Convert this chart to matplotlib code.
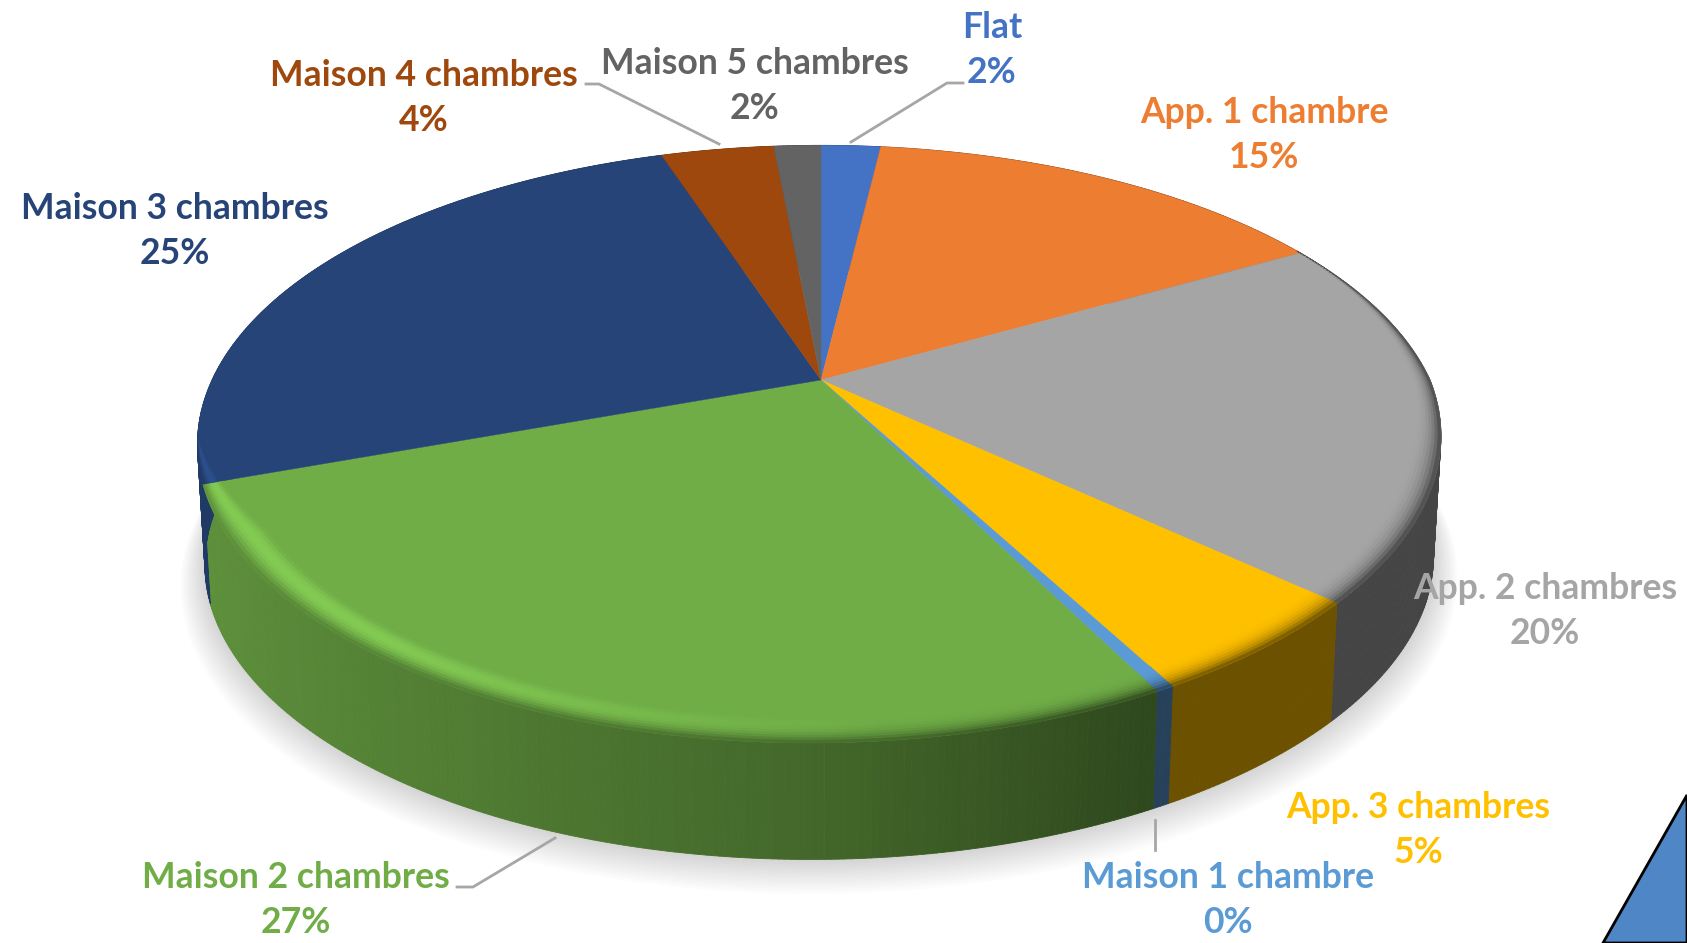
import numpy as np
import matplotlib
matplotlib.use("Agg")
import matplotlib.pyplot as plt
from matplotlib.collections import PolyCollection
from matplotlib.colors import to_rgb

# data
names = ["Flat", "App. 1 chambre", "App. 2 chambres", "App. 3 chambres", "Maison 1 chambre",
         "Maison 2 chambres", "Maison 3 chambres", "Maison 4 chambres", "Maison 5 chambres"]
values = [1.9, 14.9, 19.9, 5.2, 0.4, 27.2, 25.4, 3.6, 1.5]
colors = ["#4472C4", "#ED7D31", "#A5A5A5", "#FFC000", "#5B9BD5",
          "#70AD47", "#264478", "#9E480E", "#636363"]
label_pos = [(992, 50), (1264, 135), (1545, 611), (1418, 830), (1228, 900),
             (296, 900), (175, 231), (424, 98), (755, 86)]

# pie geometry, pixels of the picture
cx, cy = 821, 380
A, B, k = 285, 609, 0.2145
depth, shrink = 121, 0.012
lean = 0.06


def project(theta, r=1.0, z=0.0):
    u = r * np.sin(theta)
    v = r * np.cos(theta)
    w = 1 + k * v
    s = 1 - shrink * z
    dy = -A * v / w * s
    # the near right part of the picture leans in a little
    shift = lean * np.clip(dy, 0, None) * (0.5 + 0.5 * u)
    return np.column_stack([cx + B * u / w * s - shift, cy + dy + depth * z])


def side_factor(theta):
    return np.interp(np.sin(theta), [-1, 0, 0.45, 1], [0.85, 0.6, 0.42, 0.42])


def rim_width(theta):
    if np.sin(theta) < 0:
        return np.clip((-0.2 - np.cos(theta)) / 0.3, 0, 1)
    return np.clip((0.5 - np.cos(theta)) / 0.8, 0, 1)


fig = plt.figure(figsize=(16.87, 9.43), dpi=100)
ax = fig.add_axes([0, 0, 1, 1])
ax.set_xlim(0, 1687)
ax.set_ylim(943, 0)
ax.axis("off")

# soft shadow under the pie
circle = np.linspace(0, 2 * np.pi, 361)
for i in range(14, 0, -1):
    pts = project(circle, r=1 + i * 0.0028, z=1.0 + i * 0.010)
    ax.fill(pts[:, 0], pts[:, 1], color="#707070", alpha=0.02, lw=0, zorder=1)

ends = np.cumsum(values) / np.sum(values) * 2 * np.pi
starts = np.r_[0, ends[:-1]]

side_polys, side_cols = [], []
rim_polys, rim_cols = [], []
top_polys, top_cols = [], []
for a, b, c in zip(starts, ends, colors):
    top = np.array(to_rgb(c))
    th = np.linspace(a, b, max(int(np.degrees(b - a) * 2), 2) + 1)

    # outer wall, one thin quad per step
    upper = project(th)
    lower = project(th, z=1.0)
    for i in range(len(th) - 1):
        mid = (th[i] + th[i + 1]) / 2
        side_polys.append([upper[i], upper[i + 1], lower[i + 1], lower[i]])
        side_cols.append(top * side_factor(mid))

    # flat top
    top_polys.append(np.vstack([[cx, cy], upper]))
    top_cols.append(top)

    # bevel between top and wall, only on the near part of the pie
    steps = np.linspace(0, 1, 11)
    for i in range(len(th) - 1):
        mid = (th[i] + th[i + 1]) / 2
        f = rim_width(mid)
        if f == 0:
            continue
        h = 0.7 * np.clip((0.1 - np.sin(mid)) / 0.7, 0, 1)
        bright = np.clip(top * 1.3, 0, 1)
        wall = top * side_factor(mid)
        for t0, t1 in zip(steps[:-1], steps[1:]):
            r0 = 1 - 0.055 * f * (1 - t0)
            r1 = 1 - 0.055 * f * (1 - t1)
            p = project(th[i:i + 2], r=r0)
            q = project(th[i:i + 2], r=r1)
            tm = (t0 + t1) / 2
            col = top + (bright - top) * h * np.sin(np.pi * tm)
            col = col + (wall - col) * tm ** 3
            rim_polys.append([p[0], p[1], q[1], q[0]])
            rim_cols.append(col)

ax.add_collection(PolyCollection(side_polys, facecolors=side_cols, edgecolors=side_cols, linewidths=0.6, zorder=2))
ax.add_collection(PolyCollection(top_polys, facecolors=top_cols, edgecolors=top_cols, linewidths=0.3, zorder=3))
ax.add_collection(PolyCollection(rim_polys, facecolors=rim_cols, edgecolors=rim_cols, linewidths=0.5, zorder=4))

# leader lines
leaders = [[(963, 83), (947, 83), (851, 142)],
           [(586, 84), (599, 84), (719, 144)],
           [(457, 887), (473, 887), (555, 838)],
           [(1155, 850), (1155, 820)]]
for line in leaders:
    xs, ys = zip(*line)
    ax.plot(xs, ys, color="#A6A6A6", lw=2, zorder=5)

# labels
for name, val, col, (x, y) in zip(names, values, colors, label_pos):
    ax.text(x, y, f"{name}\n{round(val)}%", color=col, ha="center", va="center",
            fontsize=25.6, fontweight="bold", family="Lato", linespacing=1.48, zorder=6)

# corner of the slide decoration
ax.fill([1687, 1603, 1687], [795, 943, 943], facecolor="#4F86C6", edgecolor="black", lw=2, zorder=7, clip_on=True)

fig.savefig("out.png", dpi=100, facecolor="white")
